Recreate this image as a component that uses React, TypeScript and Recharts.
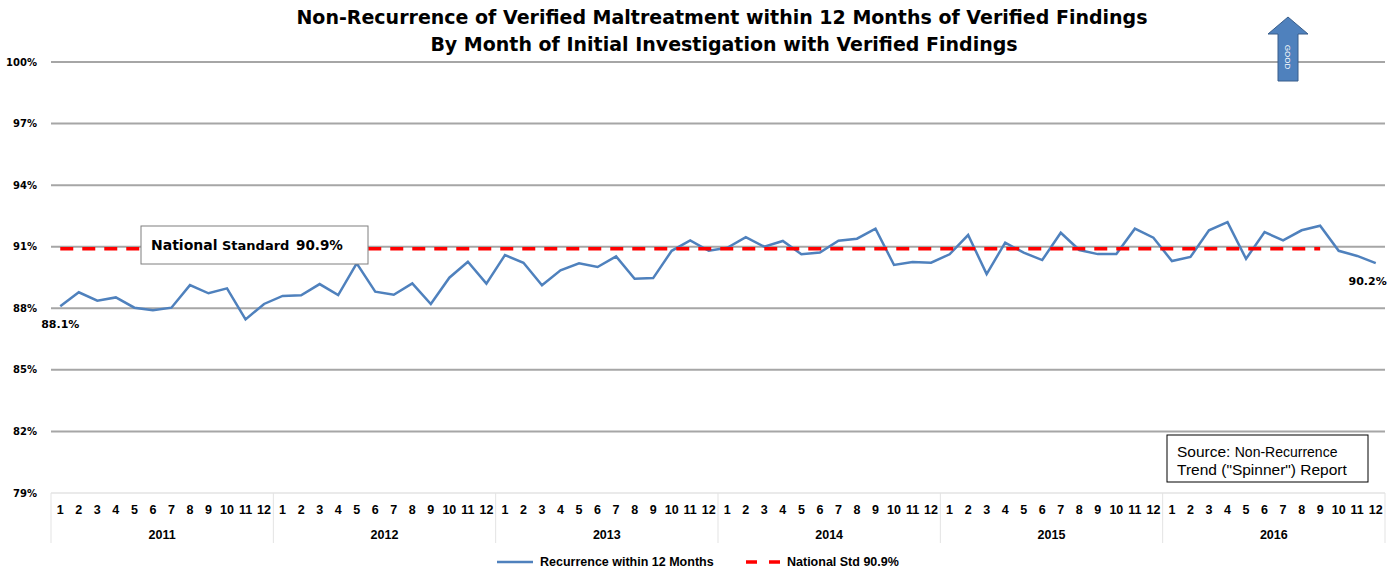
import React from "react";
import { LineChart, Line, XAxis, YAxis, ReferenceLine, LabelList, Legend } from "recharts";

const years = ["2011", "2012", "2013", "2014", "2015", "2016"];
const months = [1, 2, 3, 4, 5, 6, 7, 8, 9, 10, 11, 12];

const rate2011 = [88.1, 88.78, 88.37, 88.53, 88.03, 87.91, 88.03, 89.13, 88.73, 88.97, 87.46, 88.21];
const rate2012 = [88.6, 88.63, 89.18, 88.64, 90.19, 88.81, 88.66, 89.21, 88.21, 89.49, 90.27, 89.2];
const rate2013 = [90.59, 90.22, 89.12, 89.85, 90.19, 90.01, 90.53, 89.44, 89.47, 90.8, 91.31, 90.8];
const rate2014 = [90.95, 91.47, 91.0, 91.28, 90.63, 90.72, 91.29, 91.39, 91.88, 90.11, 90.25, 90.22];
const rate2015 = [90.63, 91.57, 89.67, 91.2, 90.71, 90.35, 91.68, 90.84, 90.64, 90.64, 91.88, 91.44];
const rate2016 = [90.3, 90.5, 91.8, 92.2, 90.41, 91.71, 91.31, 91.8, 92.02, 90.8, 90.55, 90.2];
const rates = [rate2011, rate2012, rate2013, rate2014, rate2015, rate2016];

// national standard is drawn through Sep 2016
const nationalStd = 90.9;
const stdLastIndex = 68;

const yTicks = [79, 82, 85, 88, 91, 94, 97, 100];

const data = years.flatMap((year, yi) =>
  months.map((month, mi) => {
    const i = yi * 12 + mi;
    return {
      key: `${year}-${month}`,
      year,
      month,
      rate: rates[yi][mi],
      std: i <= stdLastIndex ? nationalStd : null,
    };
  })
);

const W = 1388;
const H = 576;
const M = { top: 62, right: 3, left: 0, bottom: 7 };
const Y_W = 51;
const BAND = (W - Y_W - M.right) / data.length;

const axisFont = "'Liberation Sans', Arial, sans-serif";
const boldFont = "'DejaVu Sans', Verdana, sans-serif";

function MonthTick(props: any) {
  const { x, y, index } = props;
  const row = data[index];
  if (!row) return null;
  const half = BAND / 2;
  return (
    <g>
      <text x={x} y={y + 21} textAnchor="middle" fontSize={12.5} fontWeight="bold" fontFamily={axisFont} fill="#000">
        {row.month}
      </text>
      {row.month === 1 && (
        <line x1={x - half} x2={x - half} y1={y} y2={y + 50} stroke="#E3E3E3" strokeWidth={1} />
      )}
      {index === data.length - 1 && (
        <line x1={x + half} x2={x + half} y1={y} y2={y + 50} stroke="#E3E3E3" strokeWidth={1} />
      )}
      {row.month === 6 && (
        <text x={x + half} y={y + 46} textAnchor="middle" fontSize={12.5} fontWeight="bold" fontFamily={axisFont} fill="#000">
          {row.year}
        </text>
      )}
    </g>
  );
}

function EndLabel(props: any) {
  const { x, y, index, value } = props;
  const last = index === data.length - 1;
  if (index !== 0 && !last) return null;
  // last label is pulled in so it stays inside the picture
  return (
    <text
      x={last ? x + 11 : x}
      y={y + 22}
      textAnchor={last ? "end" : "middle"}
      fontSize={11}
      fontWeight="bold"
      fontFamily={boldFont}
      fill="#000"
    >
      {`${value.toFixed(1)}%`}
    </text>
  );
}

function LegendContent() {
  const txt = { fontSize: 12.5, fontWeight: "bold" as const, fontFamily: axisFont, fill: "#000" };
  return (
    <svg width={W} height={24} style={{ display: "block" }}>
      <line x1={497} x2={533} y1={17} y2={17} stroke="#4F81BD" strokeWidth={2.5} />
      <text x={540} y={21} {...txt}>Recurrence within 12 Months</text>
      <line x1={746} x2={781} y1={17} y2={17} stroke="#FF0000" strokeWidth={3.5} strokeDasharray="11 12" />
      <text x={787} y={21} {...txt}>National Std 90.9%</text>
    </svg>
  );
}

function Overlay() {
  return (
    <svg width={W} height={H} style={{ position: "absolute", left: 0, top: 0, pointerEvents: "none" }}>
      <text x={722} y={24} textAnchor="middle" fontSize={19} fontWeight="bold" fontFamily={boldFont} fill="#000">
        Non-Recurrence of Verified Maltreatment within 12 Months of Verified Findings
      </text>
      <text x={724} y={51} textAnchor="middle" fontSize={19} fontWeight="bold" fontFamily={boldFont} fill="#000">
        By Month of Initial Investigation with Verified Findings
      </text>

      <rect x={141} y={226} width={227} height={38} fill="#fff" stroke="#7F7F7F" strokeWidth={1} />
      <text x={151} y={250} fontSize={14} fontWeight="bold" fontFamily={boldFont} fill="#000">National</text>
      <text x={222} y={250} fontSize={13} fontWeight="bold" fontFamily={boldFont} fill="#000">Standard</text>
      <text x={296} y={250} fontSize={13.5} fontWeight="bold" fontFamily={boldFont} fill="#000">90.9%</text>

      <rect x={1167} y={435} width={201} height={47} fill="#fff" stroke="#000" strokeWidth={1} />
      <text x={1177} y={457} fontFamily={axisFont} fill="#000">
        <tspan fontSize={15.5}>Source: </tspan>
        <tspan fontSize={14}>Non-Recurrence</tspan>
      </text>
      <text x={1177} y={475} fontSize={15.5} fontFamily={axisFont} fill="#000">
        Trend ("Spinner") Report
      </text>

      <polygon
        points="1288,17 1308,34 1298,34 1298,81 1278,81 1278,34 1268,34"
        fill="#4F81BD"
        stroke="#385D8A"
        strokeWidth={1}
      />
      <text
        x={1288}
        y={57}
        textAnchor="middle"
        fontSize={8}
        fontFamily={axisFont}
        fill="#fff"
        transform="rotate(90 1288 57)"
        dy={3}
      >
        GOOD
      </text>
    </svg>
  );
}

export default function App() {
  return (
    <div style={{ position: "absolute", left: 0, top: 0, width: W, height: H, background: "#fff" }}>
      <LineChart width={W} height={H} data={data} margin={M}>
        <XAxis
          dataKey="key"
          interval={0}
          height={52}
          padding={{ left: BAND / 2, right: BAND / 2 }}
          tickLine={false}
          tickSize={0}
          tickMargin={0}
          axisLine={{ stroke: "#E3E3E3", strokeWidth: 1.5 }}
          tick={<MonthTick />}
        />
        <YAxis
          domain={[79, 100]}
          ticks={yTicks}
          width={Y_W}
          axisLine={false}
          tickLine={false}
          tickSize={0}
          tickMargin={14}
          tickFormatter={(v: number) => `${v}%`}
          tick={{ fontSize: 10, fontWeight: "bold", fill: "#000", fontFamily: boldFont }}
        />
        {yTicks.slice(1).map((t) => (
          <ReferenceLine key={t} y={t} stroke="#A6A6A6" strokeWidth={2} />
        ))}
        <Legend verticalAlign="bottom" height={24} content={<LegendContent />} />
        <Line
          dataKey="rate"
          stroke="#4F81BD"
          strokeWidth={2.5}
          dot={false}
          activeDot={false}
          isAnimationActive={false}
        >
          <LabelList dataKey="rate" content={<EndLabel />} />
        </Line>
        <Line
          dataKey="std"
          stroke="#FF0000"
          strokeWidth={3.5}
          strokeDasharray="13 9"
          dot={false}
          activeDot={false}
          connectNulls={false}
          isAnimationActive={false}
        />
      </LineChart>
      <Overlay />
    </div>
  );
}
